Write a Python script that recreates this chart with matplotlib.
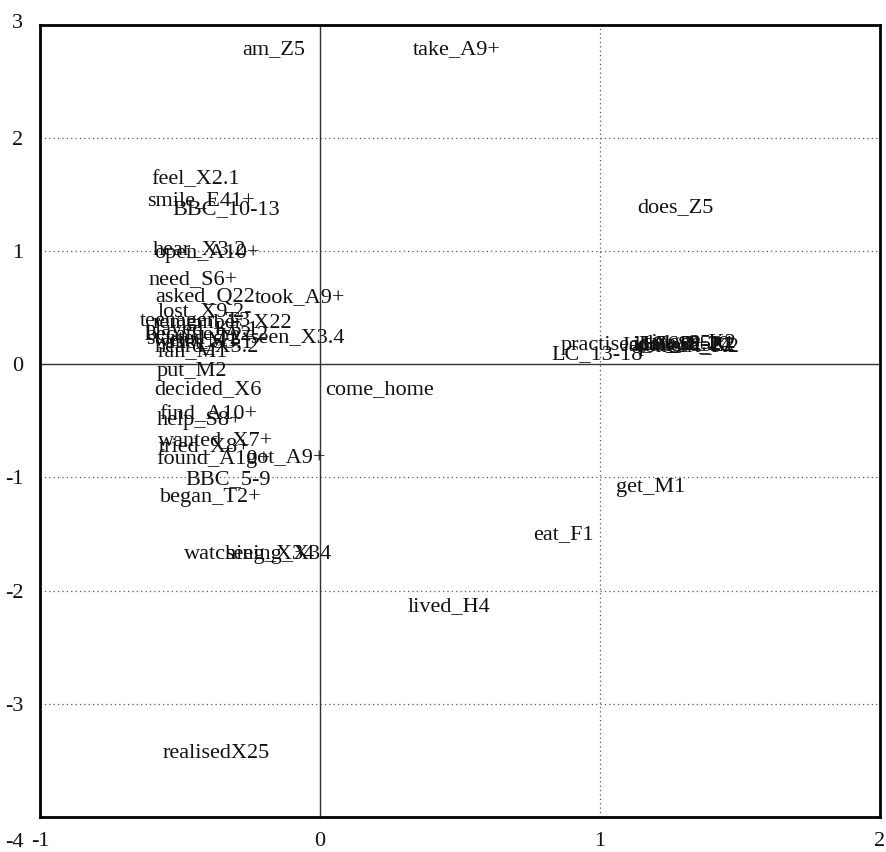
import matplotlib
matplotlib.use('Agg')
import matplotlib.pyplot as plt
import matplotlib.transforms as mtransforms

plt.rcParams['font.family'] = ['Liberation Serif', 'DejaVu Serif']

# word labels and their coordinates (dimension 1, dimension 2)
words = ['am_Z5', 'take_A9+', 'feel_X2.1', 'smile_E41+', 'BBC_10-13', 'does_Z5',
         'hear_X3.2', 'open_A10+', 'need_S6+', 'asked_Q22', 'took_A9+', 'lost_X9.2-',
         'teenager_T3', 'remember_X22', 'played_K5.1', 'became_A2.2', 'started_T2+',
         'went_M1', 'met_S3.1', 'seen_X3.4', 'heard_X3.2', 'ran_M1',
         'put_M2', 'decided_X6', 'come_home', 'find_A10+', 'help_S8+',
         'wanted_X7+', 'tried_X8+', 'found_A10+', 'got_A9+', 'BBC_5-9', 'began_T2+',
         'get_M1', 'eat_F1', 'watching_X34', 'seeing_X34', 'lived_H4', 'realisedX25',
         'LC_13-18', 'practised_A6.2+', 'idol_S2.1', 'club_S5+', 'concert_K2',
         'LC_19-20', 'singer_K2', 'Japanese_Z2', 'LC_21-24']
dim1 = [-0.164, 0.489, -0.443, -0.425, -0.336, 1.271,
        -0.429, -0.404, -0.454, -0.411, -0.071, -0.411,
        -0.446, -0.35, -0.42, -0.40, -0.43,
        -0.44, -0.39, -0.082, -0.405, -0.454,
        -0.457, -0.40, 0.214, -0.40, -0.429,
        -0.371, -0.411, -0.379, -0.121, -0.329, -0.389,
        1.182, 0.868, -0.25, -0.15, 0.461, -0.371,
        0.989, 1.125, 1.27, 1.29, 1.31,
        1.30, 1.32, 1.28, 1.31]
dim2 = [2.779, 2.78, 1.630, 1.444, 1.365, 1.383,
        1.011, 0.976, 0.746, 0.587, 0.587, 0.463,
        0.375, 0.366, 0.30, 0.26, 0.23,
        0.21, 0.19, 0.233, 0.154, 0.110,
        -0.067, -0.226, -0.226, -0.447, -0.500,
        -0.677, -0.730, -0.845, -0.836, -1.022, -1.181,
        -1.092, -1.508, -1.684, -1.684, -2.144, -3.435,
        0.083, 0.163, 0.17, 0.18, 0.16,
        0.17, 0.18, 0.16, 0.17]

xticks = [-1, 0, 1, 2]
yticks = [-4, -3, -2, -1, 0, 1, 2, 3]

fig = plt.figure(figsize=(8.87, 8.52), dpi=100)
ax = fig.add_axes([0.045, 0.041, 0.947, 0.930])
ax.set_xlim(-1, 2)
ax.set_ylim(-4, 3)

# reference lines
for yv in [-3, -2, -1, 1, 2]:
    ax.axhline(yv, color='#555555', lw=0.9, ls=(0, (1, 2.5)), zorder=1)
ax.axvline(1, color='#555555', lw=0.9, ls=(0, (1, 2.5)), zorder=1)
ax.axhline(0, color='#333333', lw=1.0, zorder=1)
ax.axvline(0, color='#333333', lw=1.0, zorder=1)

for w, x, y in zip(words, dim1, dim2):
    ax.text(x, y, w, ha='center', va='center', fontsize=16, color='#111111', zorder=3)

for s in ax.spines.values():
    s.set_linewidth(2.0)

ax.set_xticks(xticks)
ax.set_yticks(yticks)
ax.set_xticklabels([str(v) for v in xticks])
ax.set_yticklabels([str(v) for v in yticks])
ax.tick_params(length=0, labelsize=16, colors='#111111')
ax.tick_params(axis='x', pad=11)
ax.tick_params(axis='y', pad=12)

# end labels sit a bit outside the frame
for lab in ax.get_yticklabels():
    t = lab.get_text()
    if t == '3':
        lab.set_transform(lab.get_transform() + mtransforms.ScaledTranslation(0, 4/100, fig.dpi_scale_trans))
    elif t == '-4':
        lab.set_transform(lab.get_transform() + mtransforms.ScaledTranslation(0, -23/100, fig.dpi_scale_trans))

fig.savefig('out.png', dpi=100)
